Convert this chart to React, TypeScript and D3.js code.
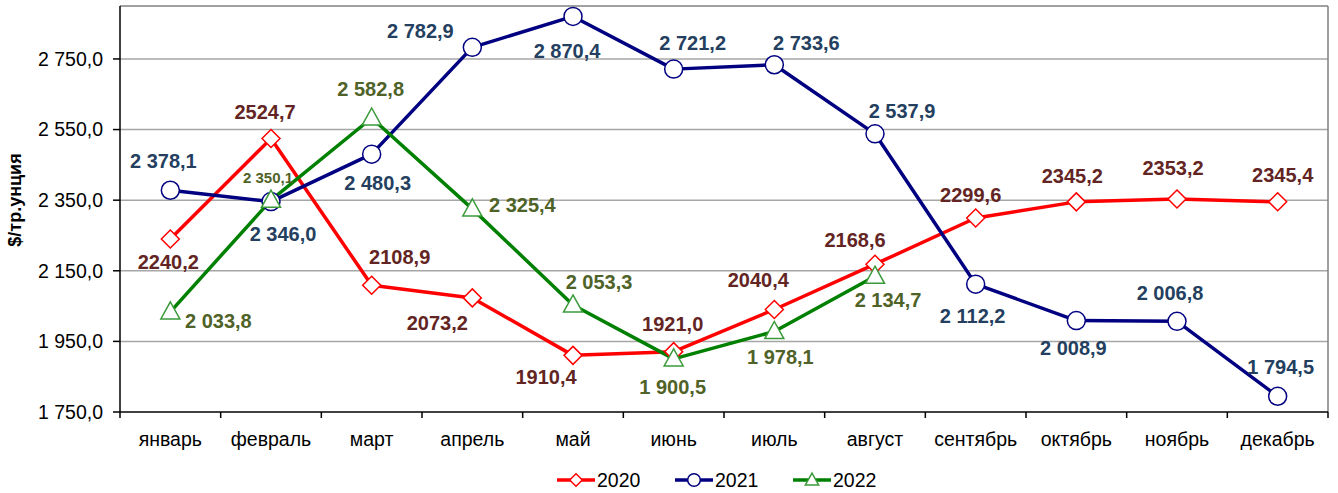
import React from "react";
import * as d3 from "d3";

// данные: цена золота, $/тр.унция
const months = ["январь", "февраль", "март", "апрель", "май", "июнь", "июль", "август", "сентябрь", "октябрь", "ноябрь", "декабрь"];
const values2020 = [2240.2, 2524.7, 2108.9, 2073.2, 1910.4, 1921.0, 2040.4, 2168.6, 2299.6, 2345.2, 2353.2, 2345.4];
const values2021 = [2378.1, 2346.0, 2480.3, 2782.9, 2870.4, 2721.2, 2733.6, 2537.9, 2112.2, 2008.9, 2006.8, 1794.5];
const values2022 = [2033.8, 2350.1, 2582.8, 2325.4, 2053.3, 1900.5, 1978.1, 2134.7];
const yTicks = [1750, 1950, 2150, 2350, 2550, 2750];

// сдвиги подписей относительно точки (dx, dy)
const labelOff2020 = [[-2, 23], [-6, -26], [28, -28], [-35, 25], [-27, 22], [-1, -28], [-16, -29], [-20, -24], [-5, -23], [-4, -26], [-4, -31], [5, -27]];
const labelOff2021 = [[-7, -29], [12, 32], [6, 29], [-52, -16], [-6, 35], [19, -26], [32, -22], [27, -23], [-3, 32], [-3, 27], [-7, -28], [3, -29]];
const labelOff2022 = [[48, 9], [-3, -22], [-1, -29], [50, -4], [26, -23], [-1, 28], [6, 26], [13, 24]];

const W = 1338, H = 493;
const m = { left: 120, right: 1328, top: 6, bottom: 412 };
const font = "'Liberation Sans', Arial, sans-serif";

const ru = d3.formatLocale({ decimal: ",", thousands: "\u00a0", grouping: [3], currency: ["", ""] });
const fmtSpace = ru.format(",.1f");
const fmtPlain = (v: number) => v.toFixed(1).replace(".", ",");

const x = d3.scaleBand<string>().domain(months).range([m.left, m.right]);
const y = d3.scaleLinear().domain([1750, 2900]).range([m.bottom, m.top]);
const cx = (i: number) => (x(months[i]) as number) + x.bandwidth() / 2;

const series = [
  { name: "2020", values: values2020, color: "#ff0000", mark: "#ff0000", label: "#632523", fmt: fmtPlain, off: labelOff2020, shape: "diamond" },
  { name: "2021", values: values2021, color: "#000080", mark: "#000080", label: "#243f60", fmt: fmtSpace, off: labelOff2021, shape: "circle" },
  { name: "2022", values: values2022, color: "#008000", mark: "#3a9a3a", label: "#4f6228", fmt: fmtSpace, off: labelOff2022, shape: "triangle" },
];

function Marker({ shape, px, py, stroke, s = 1 }: { shape: string; px: number; py: number; stroke: string; s?: number }) {
  if (shape === "circle")
    return <circle cx={px} cy={py} r={9 * s} fill="#fff" stroke={stroke} strokeWidth={1.5} />;
  if (shape === "diamond") {
    const r = 9 * s;
    return <path d={`M${px},${py - r}L${px + r},${py}L${px},${py + r}L${px - r},${py}Z`} fill="#fff" stroke={stroke} strokeWidth={1.5} />;
  }
  const h = 9.5 * s;
  return <path d={`M${px},${py - h * 1.05}L${px + h},${py + h * 0.75}L${px - h},${py + h * 0.75}Z`} fill="#fff" stroke={stroke} strokeWidth={1.5} />;
}

export default function App() {
  const line = d3.line<number>().x((_, i) => cx(i)).y(d => y(d));
  return (
    <svg width={W} height={H} style={{ position: "absolute", left: 0, top: 0, background: "#fff" }} fontFamily={font}>
      {/* сетка */}
      {yTicks.slice(1).map(t => (
        <line key={t} x1={m.left} x2={m.right} y1={y(t)} y2={y(t)} stroke="#a6a6a6" strokeWidth={1.5} />
      ))}
      <line x1={m.left} x2={m.right} y1={m.top} y2={m.top} stroke="#808080" strokeWidth={1.5} />
      <line x1={m.right} x2={m.right} y1={m.top} y2={m.bottom} stroke="#808080" strokeWidth={1.5} />

      {/* оси */}
      <line x1={m.left} x2={m.left} y1={m.top} y2={m.bottom + 6} stroke="#000" strokeWidth={1.5} />
      <line x1={m.left} x2={m.right} y1={m.bottom} y2={m.bottom} stroke="#000" strokeWidth={1.5} />
      {yTicks.map(t => (
        <g key={t}>
          <line x1={m.left - 7} x2={m.left} y1={y(t)} y2={y(t)} stroke="#000" strokeWidth={1.5} />
          <text x={103} y={y(t)} dy="0.35em" textAnchor="end" fontSize={19.5}>{fmtSpace(t)}</text>
        </g>
      ))}
      {months.map((mo, i) => (
        <g key={mo}>
          <line x1={(x(mo) as number) + x.bandwidth()} x2={(x(mo) as number) + x.bandwidth()} y1={m.bottom} y2={m.bottom + 6} stroke="#000" strokeWidth={1.5} />
          <text x={cx(i)} y={439} dy="0.35em" textAnchor="middle" fontSize={19.5}>{mo}</text>
        </g>
      ))}
      <text transform="translate(15,200) rotate(-90)" dy="0.35em" textAnchor="middle" fontSize={18} fontWeight="bold">$/тр.унция</text>

      {/* линии */}
      {series.map(s => (
        <path key={s.name} d={line(s.values) as string} fill="none" stroke={s.color} strokeWidth={3.5} strokeLinejoin="round" />
      ))}
      {series.map(s => (
        <g key={s.name}>
          {s.values.map((v, i) => (
            <Marker key={i} shape={s.shape} px={cx(i)} py={y(v)} stroke={s.mark} />
          ))}
        </g>
      ))}
      {series.map(s => (
        <g key={s.name} fontWeight="bold" fill={s.label}>
          {s.values.map((v, i) => (
            <text key={i} x={cx(i) + s.off[i][0]} y={y(v) + s.off[i][1]} dy="0.35em" textAnchor="middle"
              fontSize={s.name === "2022" && i === 1 ? 15 : 20}>{s.fmt(v)}</text>
          ))}
        </g>
      ))}

      {/* легенда */}
      {series.map((s, k) => {
        const lx = 557 + k * 118;
        return (
          <g key={s.name}>
            <line x1={lx} x2={lx + 38} y1={480} y2={480} stroke={s.color} strokeWidth={3.5} />
            <Marker shape={s.shape} px={lx + 19} py={480} stroke={s.mark} s={0.7} />
            <text x={lx + 40} y={480} dy="0.35em" fontSize={19.5}>{s.name}</text>
          </g>
        );
      })}
    </svg>
  );
}
